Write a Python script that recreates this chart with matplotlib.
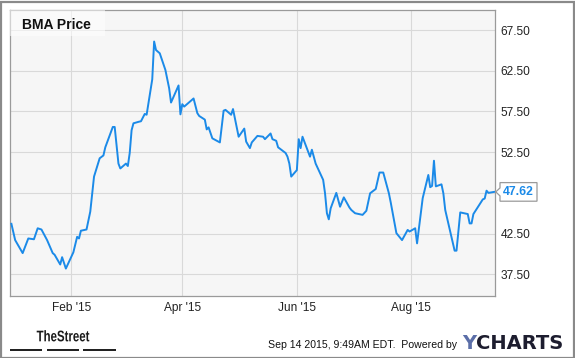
"""BMA price chart, YCharts style."""

from datetime import datetime

import matplotlib
matplotlib.use("Agg")
import matplotlib.pyplot as plt
import matplotlib.dates as mdates
import matplotlib.ticker as mticker
import matplotlib.transforms as mtransforms
from matplotlib.font_manager import FontProperties
from matplotlib.patches import Rectangle, Polygon, PathPatch
from matplotlib.textpath import TextPath
import pandas as pd

plt.rcParams["font.family"] = ["Liberation Sans", "DejaVu Sans"]

TITLE = "BMA Price"
LINE_COLOR = "#1b8ae8"

dates = [
    "2014-12-31", "2015-01-02", "2015-01-06", "2015-01-09", "2015-01-12",
    "2015-01-14", "2015-01-16", "2015-01-19", "2015-01-22", "2015-01-23",
    "2015-01-26", "2015-01-27", "2015-01-29", "2015-02-02", "2015-02-04",
    "2015-02-05", "2015-02-06", "2015-02-09", "2015-02-11", "2015-02-13",
    "2015-02-16", "2015-02-18", "2015-02-19", "2015-02-23", "2015-02-24",
    "2015-02-26", "2015-02-27", "2015-03-02", "2015-03-03", "2015-03-04",
    "2015-03-05", "2015-03-06", "2015-03-09", "2015-03-10", "2015-03-12",
    "2015-03-13", "2015-03-16", "2015-03-17", "2015-03-18", "2015-03-20",
    "2015-03-23", "2015-03-25", "2015-03-26", "2015-03-30", "2015-03-31",
    "2015-04-01", "2015-04-02", "2015-04-07", "2015-04-09", "2015-04-10",
    "2015-04-13", "2015-04-14", "2015-04-15", "2015-04-17", "2015-04-21",
    "2015-04-23", "2015-04-24", "2015-04-27", "2015-04-28", "2015-05-01",
    "2015-05-04", "2015-05-05", "2015-05-07", "2015-05-08", "2015-05-11",
    "2015-05-14", "2015-05-15", "2015-05-18", "2015-05-19", "2015-05-21",
    "2015-05-22", "2015-05-26", "2015-05-27", "2015-05-28", "2015-05-29",
    "2015-06-01", "2015-06-02", "2015-06-03", "2015-06-04", "2015-06-08",
    "2015-06-09", "2015-06-11", "2015-06-15", "2015-06-16", "2015-06-17",
    "2015-06-18", "2015-06-19", "2015-06-22", "2015-06-24", "2015-06-26",
    "2015-06-29", "2015-06-30", "2015-07-02", "2015-07-06", "2015-07-08",
    "2015-07-10", "2015-07-13", "2015-07-15", "2015-07-17", "2015-07-20",
    "2015-07-21", "2015-07-24", "2015-07-27", "2015-07-30", "2015-07-31",
    "2015-08-03", "2015-08-04", "2015-08-07", "2015-08-10", "2015-08-11",
    "2015-08-12", "2015-08-13", "2015-08-14", "2015-08-17", "2015-08-18",
    "2015-08-19", "2015-08-24", "2015-08-25", "2015-08-27", "2015-08-31",
    "2015-09-01", "2015-09-02", "2015-09-03", "2015-09-08", "2015-09-09",
    "2015-09-10", "2015-09-11", "2015-09-14",
]

prices = [
    43.7, 41.7, 40.1, 41.9, 41.8,
    43.15, 43.0, 41.7, 40.1, 39.9,
    38.7, 39.6, 38.2, 40.2, 42.1,
    41.9, 42.85, 43.0, 45.2, 49.5,
    51.75, 52.1, 53.1, 55.6, 55.6,
    51.1, 50.5, 51.1, 50.8, 52.4,
    55.2, 56.05, 56.25, 56.3, 57.2,
    57.1, 61.45, 66.1, 65.05, 64.65,
    62.6, 60.35, 58.6, 60.7, 57.15,
    58.4, 58.1, 59.1, 57.3, 56.95,
    56.5, 55.3, 55.55, 54.2, 53.7,
    57.6, 57.7, 57.1, 57.8, 54.4,
    55.4, 53.8, 53.0, 53.7, 54.5,
    54.4, 54.1, 54.8, 54.1, 53.9,
    53.1, 52.4, 51.95, 51.1, 49.5,
    50.3, 54.1, 53.0, 54.4, 51.95,
    52.8, 51.1, 49.1, 47.45, 45.0,
    44.25, 45.6, 47.5, 45.8, 46.95,
    45.7, 45.4, 45.0, 44.8, 45.3,
    47.45, 47.98, 50.0, 50.0, 47.45,
    46.3, 42.55, 41.7, 42.95, 42.75,
    43.15, 41.3, 46.85, 49.7, 48.2,
    48.35, 51.45, 48.3, 48.55, 47.45,
    45.4, 40.4, 40.4, 45.1, 44.9,
    43.75, 43.75, 44.9, 46.7, 46.8,
    47.77, 47.5, 47.62,
]

y_ticks = [37.5, 42.5, 47.5, 52.5, 57.5, 62.5, 67.5]
y_limits = (34.83, 69.97)
x_limits = (datetime(2014, 12, 30, 10), datetime(2015, 9, 14, 12))
x_tick_months = [2, 4, 6, 8]

FOOTER_STAMP = "Sep 14 2015, 9:49AM EDT.  Powered by"
LOGO = "TheStreet"

series = pd.Series(prices, index=pd.to_datetime(dates))
last = series.iloc[-1]

W, H, DPI = 575, 358, 100
fig = plt.figure(figsize=(W / DPI, H / DPI), dpi=DPI)
fig.patch.set_facecolor("white")

# outer frame
fig.patches.append(Rectangle((0.5 / W, 0.5 / H), 1 - 1.5 / W, 1 - 2.0 / H,
                             transform=fig.transFigure, fill=False,
                             edgecolor="#8a8a8a", linewidth=1.6))

ax = fig.add_axes([10.3 / W, 1 - 296 / H, (495 - 10.3) / W, (296 - 10) / H])
ax.set_facecolor("#f6f6f6")
ax.plot(series.index, series.values, color=LINE_COLOR, linewidth=1.4,
        solid_joinstyle="round", zorder=3)

ax.set_xlim(x_limits)
ax.set_ylim(y_limits)
ax.set_yticks(y_ticks)
# the last-value tag sits on top of the nearest price label
ax.yaxis.set_major_formatter(mticker.FuncFormatter(
    lambda v, p: "" if abs(v - last) < 1.5 else f"{v:.2f}"))
ax.yaxis.tick_right()
ax.xaxis.set_major_locator(mdates.MonthLocator(bymonth=x_tick_months))
ax.xaxis.set_major_formatter(mdates.DateFormatter("%b '%y"))
ax.tick_params(axis="both", length=0, labelsize=8.6, colors="#222222")
ax.tick_params(axis="y", pad=4)
ax.tick_params(axis="x", pad=4)
ax.grid(True, color="#d9d9d9", linewidth=0.8)
ax.set_axisbelow(True)
for s in ax.spines.values():
    s.set_color("#9a9a9a")
    s.set_linewidth(0.9)

# title box
ax.add_patch(Rectangle((0, 1 - 26 / 286), 95 / 484.7, 26 / 286,
                       transform=ax.transAxes, facecolor="white", alpha=0.55,
                       edgecolor="none", zorder=4))
fig.text(21.5 / W, 1 - 29 / H, TITLE, fontsize=10, fontweight="bold",
         color="#111111", ha="left", va="baseline")

# last value tag
anchor = mtransforms.blended_transform_factory(ax.transAxes, ax.transData)
tag_trans = fig.dpi_scale_trans + mtransforms.ScaledTranslation(1.0, last, anchor)
px = 1 / DPI
tag = Polygon([(5 * px, 9.3 * px), (5 * px, 4 * px), (0.8 * px, 0), (5 * px, -4 * px),
               (5 * px, -9.3 * px), (42 * px, -9.3 * px), (42 * px, 9.3 * px)],
              closed=True, transform=tag_trans, facecolor="white",
              edgecolor="#9a9a9a", linewidth=0.9, clip_on=False, zorder=5)
fig.patches.append(tag)
fig.text(23.5 * px, 0, f"{last:.2f}", transform=tag_trans, fontsize=8.8,
         fontweight="bold", color=LINE_COLOR, ha="center", va="center", zorder=6)

# footer: TheStreet logo, bold text squeezed to a condensed width
logo_path = TextPath((0, 0), LOGO, size=15.4,
                     prop=FontProperties(family="Liberation Sans", weight="bold"))
ext = logo_path.get_extents()
logo_trans = (mtransforms.Affine2D().translate(-ext.x0, 0)
              .scale(52.6 / ext.width, 1).translate(36.7, H - 341.3))
fig.patches.append(PathPatch(logo_path, transform=logo_trans,
                             facecolor="#1a1a1a", edgecolor="none"))
for x0, x1 in [(10.0, 42.3), (46.7, 79.0), (83.3, 116.0)]:
    fig.patches.append(Rectangle((x0 / W, 1 - 351.2 / H), (x1 - x0) / W, 2.4 / H,
                                 transform=fig.transFigure, facecolor="#222222",
                                 edgecolor="none"))

# footer: timestamp + YCharts
fig.text(268 / W, 1 - 348.5 / H, FOOTER_STAMP, fontsize=7.6, color="#111111",
         ha="left", va="baseline")
fig.text(461.7 / W, 1 - 349 / H, "Y", family=["DejaVu Sans"], fontsize=14,
         fontweight="bold", color="#5b6ea8", ha="left", va="baseline")
fig.text(563 / W, 1 - 349 / H, "CHARTS", family=["DejaVu Sans"], fontsize=14,
         fontweight="bold", color="#1d1d2f", ha="right", va="baseline")

fig.savefig("out.png", dpi=DPI)
plt.close(fig)
